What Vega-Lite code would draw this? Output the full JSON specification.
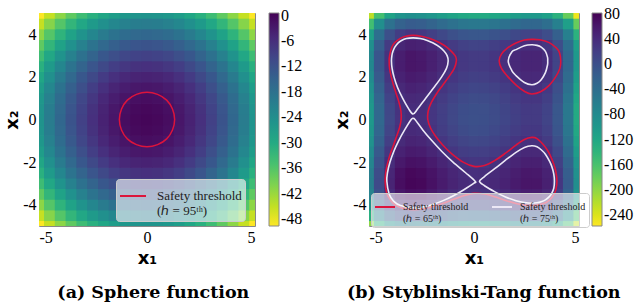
{
"$schema":"https://vega.github.io/schema/vega-lite/v6.json",
"background":"white",
"padding":{"left":3,"top":12,"right":0,"bottom":2},
"spacing":29,
"datasets":{
"g":[
{"x":-5,"y":-5,"s":-50,"t":-200},{"x":-4.5,"y":-5,"s":-45.25,"t":-131.8},{"x":-4,"y":-5,"s":-41,"t":-90},{"x":-3.5,"y":-5,"s":-37.25,"t":-68.3},{"x":-3,"y":-5,"s":-34,"t":-61},{"x":-2.5,"y":-5,"s":-31.25,"t":-63.3},{"x":-2,"y":-5,"s":-29,"t":-71},{"x":-1.5,"y":-5,"s":-27.25,"t":-80.8},{"x":-1,"y":-5,"s":-26,"t":-90},{"x":-0.5,"y":-5,"s":-25.25,"t":-96.8},{"x":0,"y":-5,"s":-25,"t":-100},{"x":0.5,"y":-5,"s":-25.25,"t":-99.3},{"x":1,"y":-5,"s":-26,"t":-95},{"x":1.5,"y":-5,"s":-27.25,"t":-88.3},{"x":2,"y":-5,"s":-29,"t":-81},{"x":2.5,"y":-5,"s":-31.25,"t":-75.8},{"x":3,"y":-5,"s":-34,"t":-76},{"x":3.5,"y":-5,"s":-37.25,"t":-85.8},{"x":4,"y":-5,"s":-41,"t":-110},{"x":4.5,"y":-5,"s":-45.25,"t":-154.3},{"x":5,"y":-5,"s":-50,"t":-225},
{"x":-5,"y":-4.5,"s":-45.25,"t":-131.8},{"x":-4.5,"y":-4.5,"s":-40.5,"t":-63.6},{"x":-4,"y":-4.5,"s":-36.25,"t":-21.8},{"x":-3.5,"y":-4.5,"s":-32.5,"t":-0.1},{"x":-3,"y":-4.5,"s":-29.25,"t":7.2},{"x":-2.5,"y":-4.5,"s":-26.5,"t":4.9},{"x":-2,"y":-4.5,"s":-24.25,"t":-2.8},{"x":-1.5,"y":-4.5,"s":-22.5,"t":-12.6},{"x":-1,"y":-4.5,"s":-21.25,"t":-21.8},{"x":-0.5,"y":-4.5,"s":-20.5,"t":-28.6},{"x":0,"y":-4.5,"s":-20.25,"t":-31.8},{"x":0.5,"y":-4.5,"s":-20.5,"t":-31.1},{"x":1,"y":-4.5,"s":-21.25,"t":-26.8},{"x":1.5,"y":-4.5,"s":-22.5,"t":-20.1},{"x":2,"y":-4.5,"s":-24.25,"t":-12.8},{"x":2.5,"y":-4.5,"s":-26.5,"t":-7.6},{"x":3,"y":-4.5,"s":-29.25,"t":-7.8},{"x":3.5,"y":-4.5,"s":-32.5,"t":-17.6},{"x":4,"y":-4.5,"s":-36.25,"t":-41.8},{"x":4.5,"y":-4.5,"s":-40.5,"t":-86.1},{"x":5,"y":-4.5,"s":-45.25,"t":-156.8},
{"x":-5,"y":-4,"s":-41,"t":-90},{"x":-4.5,"y":-4,"s":-36.25,"t":-21.8},{"x":-4,"y":-4,"s":-32,"t":20},{"x":-3.5,"y":-4,"s":-28.25,"t":41.7},{"x":-3,"y":-4,"s":-25,"t":49},{"x":-2.5,"y":-4,"s":-22.25,"t":46.7},{"x":-2,"y":-4,"s":-20,"t":39},{"x":-1.5,"y":-4,"s":-18.25,"t":29.2},{"x":-1,"y":-4,"s":-17,"t":20},{"x":-0.5,"y":-4,"s":-16.25,"t":13.2},{"x":0,"y":-4,"s":-16,"t":10},{"x":0.5,"y":-4,"s":-16.25,"t":10.7},{"x":1,"y":-4,"s":-17,"t":15},{"x":1.5,"y":-4,"s":-18.25,"t":21.7},{"x":2,"y":-4,"s":-20,"t":29},{"x":2.5,"y":-4,"s":-22.25,"t":34.2},{"x":3,"y":-4,"s":-25,"t":34},{"x":3.5,"y":-4,"s":-28.25,"t":24.2},{"x":4,"y":-4,"s":-32,"t":0},{"x":4.5,"y":-4,"s":-36.25,"t":-44.3},{"x":5,"y":-4,"s":-41,"t":-115},
{"x":-5,"y":-3.5,"s":-37.25,"t":-68.3},{"x":-4.5,"y":-3.5,"s":-32.5,"t":-0.1},{"x":-4,"y":-3.5,"s":-28.25,"t":41.7},{"x":-3.5,"y":-3.5,"s":-24.5,"t":63.4},{"x":-3,"y":-3.5,"s":-21.25,"t":70.7},{"x":-2.5,"y":-3.5,"s":-18.5,"t":68.4},{"x":-2,"y":-3.5,"s":-16.25,"t":60.7},{"x":-1.5,"y":-3.5,"s":-14.5,"t":50.9},{"x":-1,"y":-3.5,"s":-13.25,"t":41.7},{"x":-0.5,"y":-3.5,"s":-12.5,"t":34.9},{"x":0,"y":-3.5,"s":-12.25,"t":31.7},{"x":0.5,"y":-3.5,"s":-12.5,"t":32.4},{"x":1,"y":-3.5,"s":-13.25,"t":36.7},{"x":1.5,"y":-3.5,"s":-14.5,"t":43.4},{"x":2,"y":-3.5,"s":-16.25,"t":50.7},{"x":2.5,"y":-3.5,"s":-18.5,"t":55.9},{"x":3,"y":-3.5,"s":-21.25,"t":55.7},{"x":3.5,"y":-3.5,"s":-24.5,"t":45.9},{"x":4,"y":-3.5,"s":-28.25,"t":21.7},{"x":4.5,"y":-3.5,"s":-32.5,"t":-22.6},{"x":5,"y":-3.5,"s":-37.25,"t":-93.3},
{"x":-5,"y":-3,"s":-34,"t":-61},{"x":-4.5,"y":-3,"s":-29.25,"t":7.2},{"x":-4,"y":-3,"s":-25,"t":49},{"x":-3.5,"y":-3,"s":-21.25,"t":70.7},{"x":-3,"y":-3,"s":-18,"t":78},{"x":-2.5,"y":-3,"s":-15.25,"t":75.7},{"x":-2,"y":-3,"s":-13,"t":68},{"x":-1.5,"y":-3,"s":-11.25,"t":58.2},{"x":-1,"y":-3,"s":-10,"t":49},{"x":-0.5,"y":-3,"s":-9.25,"t":42.2},{"x":0,"y":-3,"s":-9,"t":39},{"x":0.5,"y":-3,"s":-9.25,"t":39.7},{"x":1,"y":-3,"s":-10,"t":44},{"x":1.5,"y":-3,"s":-11.25,"t":50.7},{"x":2,"y":-3,"s":-13,"t":58},{"x":2.5,"y":-3,"s":-15.25,"t":63.2},{"x":3,"y":-3,"s":-18,"t":63},{"x":3.5,"y":-3,"s":-21.25,"t":53.2},{"x":4,"y":-3,"s":-25,"t":29},{"x":4.5,"y":-3,"s":-29.25,"t":-15.3},{"x":5,"y":-3,"s":-34,"t":-86},
{"x":-5,"y":-2.5,"s":-31.25,"t":-63.3},{"x":-4.5,"y":-2.5,"s":-26.5,"t":4.9},{"x":-4,"y":-2.5,"s":-22.25,"t":46.7},{"x":-3.5,"y":-2.5,"s":-18.5,"t":68.4},{"x":-3,"y":-2.5,"s":-15.25,"t":75.7},{"x":-2.5,"y":-2.5,"s":-12.5,"t":73.4},{"x":-2,"y":-2.5,"s":-10.25,"t":65.7},{"x":-1.5,"y":-2.5,"s":-8.5,"t":55.9},{"x":-1,"y":-2.5,"s":-7.25,"t":46.7},{"x":-0.5,"y":-2.5,"s":-6.5,"t":39.9},{"x":0,"y":-2.5,"s":-6.25,"t":36.7},{"x":0.5,"y":-2.5,"s":-6.5,"t":37.4},{"x":1,"y":-2.5,"s":-7.25,"t":41.7},{"x":1.5,"y":-2.5,"s":-8.5,"t":48.4},{"x":2,"y":-2.5,"s":-10.25,"t":55.7},{"x":2.5,"y":-2.5,"s":-12.5,"t":60.9},{"x":3,"y":-2.5,"s":-15.25,"t":60.7},{"x":3.5,"y":-2.5,"s":-18.5,"t":50.9},{"x":4,"y":-2.5,"s":-22.25,"t":26.7},{"x":4.5,"y":-2.5,"s":-26.5,"t":-17.6},{"x":5,"y":-2.5,"s":-31.25,"t":-88.3},
{"x":-5,"y":-2,"s":-29,"t":-71},{"x":-4.5,"y":-2,"s":-24.25,"t":-2.8},{"x":-4,"y":-2,"s":-20,"t":39},{"x":-3.5,"y":-2,"s":-16.25,"t":60.7},{"x":-3,"y":-2,"s":-13,"t":68},{"x":-2.5,"y":-2,"s":-10.25,"t":65.7},{"x":-2,"y":-2,"s":-8,"t":58},{"x":-1.5,"y":-2,"s":-6.25,"t":48.2},{"x":-1,"y":-2,"s":-5,"t":39},{"x":-0.5,"y":-2,"s":-4.25,"t":32.2},{"x":0,"y":-2,"s":-4,"t":29},{"x":0.5,"y":-2,"s":-4.25,"t":29.7},{"x":1,"y":-2,"s":-5,"t":34},{"x":1.5,"y":-2,"s":-6.25,"t":40.7},{"x":2,"y":-2,"s":-8,"t":48},{"x":2.5,"y":-2,"s":-10.25,"t":53.2},{"x":3,"y":-2,"s":-13,"t":53},{"x":3.5,"y":-2,"s":-16.25,"t":43.2},{"x":4,"y":-2,"s":-20,"t":19},{"x":4.5,"y":-2,"s":-24.25,"t":-25.3},{"x":5,"y":-2,"s":-29,"t":-96},
{"x":-5,"y":-1.5,"s":-27.25,"t":-80.8},{"x":-4.5,"y":-1.5,"s":-22.5,"t":-12.6},{"x":-4,"y":-1.5,"s":-18.25,"t":29.2},{"x":-3.5,"y":-1.5,"s":-14.5,"t":50.9},{"x":-3,"y":-1.5,"s":-11.25,"t":58.2},{"x":-2.5,"y":-1.5,"s":-8.5,"t":55.9},{"x":-2,"y":-1.5,"s":-6.25,"t":48.2},{"x":-1.5,"y":-1.5,"s":-4.5,"t":38.4},{"x":-1,"y":-1.5,"s":-3.25,"t":29.2},{"x":-0.5,"y":-1.5,"s":-2.5,"t":22.4},{"x":0,"y":-1.5,"s":-2.25,"t":19.2},{"x":0.5,"y":-1.5,"s":-2.5,"t":19.9},{"x":1,"y":-1.5,"s":-3.25,"t":24.2},{"x":1.5,"y":-1.5,"s":-4.5,"t":30.9},{"x":2,"y":-1.5,"s":-6.25,"t":38.2},{"x":2.5,"y":-1.5,"s":-8.5,"t":43.4},{"x":3,"y":-1.5,"s":-11.25,"t":43.2},{"x":3.5,"y":-1.5,"s":-14.5,"t":33.4},{"x":4,"y":-1.5,"s":-18.25,"t":9.2},{"x":4.5,"y":-1.5,"s":-22.5,"t":-35.1},{"x":5,"y":-1.5,"s":-27.25,"t":-105.8},
{"x":-5,"y":-1,"s":-26,"t":-90},{"x":-4.5,"y":-1,"s":-21.25,"t":-21.8},{"x":-4,"y":-1,"s":-17,"t":20},{"x":-3.5,"y":-1,"s":-13.25,"t":41.7},{"x":-3,"y":-1,"s":-10,"t":49},{"x":-2.5,"y":-1,"s":-7.25,"t":46.7},{"x":-2,"y":-1,"s":-5,"t":39},{"x":-1.5,"y":-1,"s":-3.25,"t":29.2},{"x":-1,"y":-1,"s":-2,"t":20},{"x":-0.5,"y":-1,"s":-1.25,"t":13.2},{"x":0,"y":-1,"s":-1,"t":10},{"x":0.5,"y":-1,"s":-1.25,"t":10.7},{"x":1,"y":-1,"s":-2,"t":15},{"x":1.5,"y":-1,"s":-3.25,"t":21.7},{"x":2,"y":-1,"s":-5,"t":29},{"x":2.5,"y":-1,"s":-7.25,"t":34.2},{"x":3,"y":-1,"s":-10,"t":34},{"x":3.5,"y":-1,"s":-13.25,"t":24.2},{"x":4,"y":-1,"s":-17,"t":0},{"x":4.5,"y":-1,"s":-21.25,"t":-44.3},{"x":5,"y":-1,"s":-26,"t":-115},
{"x":-5,"y":-0.5,"s":-25.25,"t":-96.8},{"x":-4.5,"y":-0.5,"s":-20.5,"t":-28.6},{"x":-4,"y":-0.5,"s":-16.25,"t":13.2},{"x":-3.5,"y":-0.5,"s":-12.5,"t":34.9},{"x":-3,"y":-0.5,"s":-9.25,"t":42.2},{"x":-2.5,"y":-0.5,"s":-6.5,"t":39.9},{"x":-2,"y":-0.5,"s":-4.25,"t":32.2},{"x":-1.5,"y":-0.5,"s":-2.5,"t":22.4},{"x":-1,"y":-0.5,"s":-1.25,"t":13.2},{"x":-0.5,"y":-0.5,"s":-0.5,"t":6.4},{"x":0,"y":-0.5,"s":-0.25,"t":3.2},{"x":0.5,"y":-0.5,"s":-0.5,"t":3.9},{"x":1,"y":-0.5,"s":-1.25,"t":8.2},{"x":1.5,"y":-0.5,"s":-2.5,"t":14.9},{"x":2,"y":-0.5,"s":-4.25,"t":22.2},{"x":2.5,"y":-0.5,"s":-6.5,"t":27.4},{"x":3,"y":-0.5,"s":-9.25,"t":27.2},{"x":3.5,"y":-0.5,"s":-12.5,"t":17.4},{"x":4,"y":-0.5,"s":-16.25,"t":-6.8},{"x":4.5,"y":-0.5,"s":-20.5,"t":-51.1},{"x":5,"y":-0.5,"s":-25.25,"t":-121.8},
{"x":-5,"y":0,"s":-25,"t":-100},{"x":-4.5,"y":0,"s":-20.25,"t":-31.8},{"x":-4,"y":0,"s":-16,"t":10},{"x":-3.5,"y":0,"s":-12.25,"t":31.7},{"x":-3,"y":0,"s":-9,"t":39},{"x":-2.5,"y":0,"s":-6.25,"t":36.7},{"x":-2,"y":0,"s":-4,"t":29},{"x":-1.5,"y":0,"s":-2.25,"t":19.2},{"x":-1,"y":0,"s":-1,"t":10},{"x":-0.5,"y":0,"s":-0.25,"t":3.2},{"x":0,"y":0,"s":0,"t":0},{"x":0.5,"y":0,"s":-0.25,"t":0.7},{"x":1,"y":0,"s":-1,"t":5},{"x":1.5,"y":0,"s":-2.25,"t":11.7},{"x":2,"y":0,"s":-4,"t":19},{"x":2.5,"y":0,"s":-6.25,"t":24.2},{"x":3,"y":0,"s":-9,"t":24},{"x":3.5,"y":0,"s":-12.25,"t":14.2},{"x":4,"y":0,"s":-16,"t":-10},{"x":4.5,"y":0,"s":-20.25,"t":-54.3},{"x":5,"y":0,"s":-25,"t":-125},
{"x":-5,"y":0.5,"s":-25.25,"t":-99.3},{"x":-4.5,"y":0.5,"s":-20.5,"t":-31.1},{"x":-4,"y":0.5,"s":-16.25,"t":10.7},{"x":-3.5,"y":0.5,"s":-12.5,"t":32.4},{"x":-3,"y":0.5,"s":-9.25,"t":39.7},{"x":-2.5,"y":0.5,"s":-6.5,"t":37.4},{"x":-2,"y":0.5,"s":-4.25,"t":29.7},{"x":-1.5,"y":0.5,"s":-2.5,"t":19.9},{"x":-1,"y":0.5,"s":-1.25,"t":10.7},{"x":-0.5,"y":0.5,"s":-0.5,"t":3.9},{"x":0,"y":0.5,"s":-0.25,"t":0.7},{"x":0.5,"y":0.5,"s":-0.5,"t":1.4},{"x":1,"y":0.5,"s":-1.25,"t":5.7},{"x":1.5,"y":0.5,"s":-2.5,"t":12.4},{"x":2,"y":0.5,"s":-4.25,"t":19.7},{"x":2.5,"y":0.5,"s":-6.5,"t":24.9},{"x":3,"y":0.5,"s":-9.25,"t":24.7},{"x":3.5,"y":0.5,"s":-12.5,"t":14.9},{"x":4,"y":0.5,"s":-16.25,"t":-9.3},{"x":4.5,"y":0.5,"s":-20.5,"t":-53.6},{"x":5,"y":0.5,"s":-25.25,"t":-124.3},
{"x":-5,"y":1,"s":-26,"t":-95},{"x":-4.5,"y":1,"s":-21.25,"t":-26.8},{"x":-4,"y":1,"s":-17,"t":15},{"x":-3.5,"y":1,"s":-13.25,"t":36.7},{"x":-3,"y":1,"s":-10,"t":44},{"x":-2.5,"y":1,"s":-7.25,"t":41.7},{"x":-2,"y":1,"s":-5,"t":34},{"x":-1.5,"y":1,"s":-3.25,"t":24.2},{"x":-1,"y":1,"s":-2,"t":15},{"x":-0.5,"y":1,"s":-1.25,"t":8.2},{"x":0,"y":1,"s":-1,"t":5},{"x":0.5,"y":1,"s":-1.25,"t":5.7},{"x":1,"y":1,"s":-2,"t":10},{"x":1.5,"y":1,"s":-3.25,"t":16.7},{"x":2,"y":1,"s":-5,"t":24},{"x":2.5,"y":1,"s":-7.25,"t":29.2},{"x":3,"y":1,"s":-10,"t":29},{"x":3.5,"y":1,"s":-13.25,"t":19.2},{"x":4,"y":1,"s":-17,"t":-5},{"x":4.5,"y":1,"s":-21.25,"t":-49.3},{"x":5,"y":1,"s":-26,"t":-120},
{"x":-5,"y":1.5,"s":-27.25,"t":-88.3},{"x":-4.5,"y":1.5,"s":-22.5,"t":-20.1},{"x":-4,"y":1.5,"s":-18.25,"t":21.7},{"x":-3.5,"y":1.5,"s":-14.5,"t":43.4},{"x":-3,"y":1.5,"s":-11.25,"t":50.7},{"x":-2.5,"y":1.5,"s":-8.5,"t":48.4},{"x":-2,"y":1.5,"s":-6.25,"t":40.7},{"x":-1.5,"y":1.5,"s":-4.5,"t":30.9},{"x":-1,"y":1.5,"s":-3.25,"t":21.7},{"x":-0.5,"y":1.5,"s":-2.5,"t":14.9},{"x":0,"y":1.5,"s":-2.25,"t":11.7},{"x":0.5,"y":1.5,"s":-2.5,"t":12.4},{"x":1,"y":1.5,"s":-3.25,"t":16.7},{"x":1.5,"y":1.5,"s":-4.5,"t":23.4},{"x":2,"y":1.5,"s":-6.25,"t":30.7},{"x":2.5,"y":1.5,"s":-8.5,"t":35.9},{"x":3,"y":1.5,"s":-11.25,"t":35.7},{"x":3.5,"y":1.5,"s":-14.5,"t":25.9},{"x":4,"y":1.5,"s":-18.25,"t":1.7},{"x":4.5,"y":1.5,"s":-22.5,"t":-42.6},{"x":5,"y":1.5,"s":-27.25,"t":-113.3},
{"x":-5,"y":2,"s":-29,"t":-81},{"x":-4.5,"y":2,"s":-24.25,"t":-12.8},{"x":-4,"y":2,"s":-20,"t":29},{"x":-3.5,"y":2,"s":-16.25,"t":50.7},{"x":-3,"y":2,"s":-13,"t":58},{"x":-2.5,"y":2,"s":-10.25,"t":55.7},{"x":-2,"y":2,"s":-8,"t":48},{"x":-1.5,"y":2,"s":-6.25,"t":38.2},{"x":-1,"y":2,"s":-5,"t":29},{"x":-0.5,"y":2,"s":-4.25,"t":22.2},{"x":0,"y":2,"s":-4,"t":19},{"x":0.5,"y":2,"s":-4.25,"t":19.7},{"x":1,"y":2,"s":-5,"t":24},{"x":1.5,"y":2,"s":-6.25,"t":30.7},{"x":2,"y":2,"s":-8,"t":38},{"x":2.5,"y":2,"s":-10.25,"t":43.2},{"x":3,"y":2,"s":-13,"t":43},{"x":3.5,"y":2,"s":-16.25,"t":33.2},{"x":4,"y":2,"s":-20,"t":9},{"x":4.5,"y":2,"s":-24.25,"t":-35.3},{"x":5,"y":2,"s":-29,"t":-106},
{"x":-5,"y":2.5,"s":-31.25,"t":-75.8},{"x":-4.5,"y":2.5,"s":-26.5,"t":-7.6},{"x":-4,"y":2.5,"s":-22.25,"t":34.2},{"x":-3.5,"y":2.5,"s":-18.5,"t":55.9},{"x":-3,"y":2.5,"s":-15.25,"t":63.2},{"x":-2.5,"y":2.5,"s":-12.5,"t":60.9},{"x":-2,"y":2.5,"s":-10.25,"t":53.2},{"x":-1.5,"y":2.5,"s":-8.5,"t":43.4},{"x":-1,"y":2.5,"s":-7.25,"t":34.2},{"x":-0.5,"y":2.5,"s":-6.5,"t":27.4},{"x":0,"y":2.5,"s":-6.25,"t":24.2},{"x":0.5,"y":2.5,"s":-6.5,"t":24.9},{"x":1,"y":2.5,"s":-7.25,"t":29.2},{"x":1.5,"y":2.5,"s":-8.5,"t":35.9},{"x":2,"y":2.5,"s":-10.25,"t":43.2},{"x":2.5,"y":2.5,"s":-12.5,"t":48.4},{"x":3,"y":2.5,"s":-15.25,"t":48.2},{"x":3.5,"y":2.5,"s":-18.5,"t":38.4},{"x":4,"y":2.5,"s":-22.25,"t":14.2},{"x":4.5,"y":2.5,"s":-26.5,"t":-30.1},{"x":5,"y":2.5,"s":-31.25,"t":-100.8},
{"x":-5,"y":3,"s":-34,"t":-76},{"x":-4.5,"y":3,"s":-29.25,"t":-7.8},{"x":-4,"y":3,"s":-25,"t":34},{"x":-3.5,"y":3,"s":-21.25,"t":55.7},{"x":-3,"y":3,"s":-18,"t":63},{"x":-2.5,"y":3,"s":-15.25,"t":60.7},{"x":-2,"y":3,"s":-13,"t":53},{"x":-1.5,"y":3,"s":-11.25,"t":43.2},{"x":-1,"y":3,"s":-10,"t":34},{"x":-0.5,"y":3,"s":-9.25,"t":27.2},{"x":0,"y":3,"s":-9,"t":24},{"x":0.5,"y":3,"s":-9.25,"t":24.7},{"x":1,"y":3,"s":-10,"t":29},{"x":1.5,"y":3,"s":-11.25,"t":35.7},{"x":2,"y":3,"s":-13,"t":43},{"x":2.5,"y":3,"s":-15.25,"t":48.2},{"x":3,"y":3,"s":-18,"t":48},{"x":3.5,"y":3,"s":-21.25,"t":38.2},{"x":4,"y":3,"s":-25,"t":14},{"x":4.5,"y":3,"s":-29.25,"t":-30.3},{"x":5,"y":3,"s":-34,"t":-101},
{"x":-5,"y":3.5,"s":-37.25,"t":-85.8},{"x":-4.5,"y":3.5,"s":-32.5,"t":-17.6},{"x":-4,"y":3.5,"s":-28.25,"t":24.2},{"x":-3.5,"y":3.5,"s":-24.5,"t":45.9},{"x":-3,"y":3.5,"s":-21.25,"t":53.2},{"x":-2.5,"y":3.5,"s":-18.5,"t":50.9},{"x":-2,"y":3.5,"s":-16.25,"t":43.2},{"x":-1.5,"y":3.5,"s":-14.5,"t":33.4},{"x":-1,"y":3.5,"s":-13.25,"t":24.2},{"x":-0.5,"y":3.5,"s":-12.5,"t":17.4},{"x":0,"y":3.5,"s":-12.25,"t":14.2},{"x":0.5,"y":3.5,"s":-12.5,"t":14.9},{"x":1,"y":3.5,"s":-13.25,"t":19.2},{"x":1.5,"y":3.5,"s":-14.5,"t":25.9},{"x":2,"y":3.5,"s":-16.25,"t":33.2},{"x":2.5,"y":3.5,"s":-18.5,"t":38.4},{"x":3,"y":3.5,"s":-21.25,"t":38.2},{"x":3.5,"y":3.5,"s":-24.5,"t":28.4},{"x":4,"y":3.5,"s":-28.25,"t":4.2},{"x":4.5,"y":3.5,"s":-32.5,"t":-40.1},{"x":5,"y":3.5,"s":-37.25,"t":-110.8},
{"x":-5,"y":4,"s":-41,"t":-110},{"x":-4.5,"y":4,"s":-36.25,"t":-41.8},{"x":-4,"y":4,"s":-32,"t":0},{"x":-3.5,"y":4,"s":-28.25,"t":21.7},{"x":-3,"y":4,"s":-25,"t":29},{"x":-2.5,"y":4,"s":-22.25,"t":26.7},{"x":-2,"y":4,"s":-20,"t":19},{"x":-1.5,"y":4,"s":-18.25,"t":9.2},{"x":-1,"y":4,"s":-17,"t":0},{"x":-0.5,"y":4,"s":-16.25,"t":-6.8},{"x":0,"y":4,"s":-16,"t":-10},{"x":0.5,"y":4,"s":-16.25,"t":-9.3},{"x":1,"y":4,"s":-17,"t":-5},{"x":1.5,"y":4,"s":-18.25,"t":1.7},{"x":2,"y":4,"s":-20,"t":9},{"x":2.5,"y":4,"s":-22.25,"t":14.2},{"x":3,"y":4,"s":-25,"t":14},{"x":3.5,"y":4,"s":-28.25,"t":4.2},{"x":4,"y":4,"s":-32,"t":-20},{"x":4.5,"y":4,"s":-36.25,"t":-64.3},{"x":5,"y":4,"s":-41,"t":-135},
{"x":-5,"y":4.5,"s":-45.25,"t":-154.3},{"x":-4.5,"y":4.5,"s":-40.5,"t":-86.1},{"x":-4,"y":4.5,"s":-36.25,"t":-44.3},{"x":-3.5,"y":4.5,"s":-32.5,"t":-22.6},{"x":-3,"y":4.5,"s":-29.25,"t":-15.3},{"x":-2.5,"y":4.5,"s":-26.5,"t":-17.6},{"x":-2,"y":4.5,"s":-24.25,"t":-25.3},{"x":-1.5,"y":4.5,"s":-22.5,"t":-35.1},{"x":-1,"y":4.5,"s":-21.25,"t":-44.3},{"x":-0.5,"y":4.5,"s":-20.5,"t":-51.1},{"x":0,"y":4.5,"s":-20.25,"t":-54.3},{"x":0.5,"y":4.5,"s":-20.5,"t":-53.6},{"x":1,"y":4.5,"s":-21.25,"t":-49.3},{"x":1.5,"y":4.5,"s":-22.5,"t":-42.6},{"x":2,"y":4.5,"s":-24.25,"t":-35.3},{"x":2.5,"y":4.5,"s":-26.5,"t":-30.1},{"x":3,"y":4.5,"s":-29.25,"t":-30.3},{"x":3.5,"y":4.5,"s":-32.5,"t":-40.1},{"x":4,"y":4.5,"s":-36.25,"t":-64.3},{"x":4.5,"y":4.5,"s":-40.5,"t":-108.6},{"x":5,"y":4.5,"s":-45.25,"t":-179.3},
{"x":-5,"y":5,"s":-50,"t":-225},{"x":-4.5,"y":5,"s":-45.25,"t":-156.8},{"x":-4,"y":5,"s":-41,"t":-115},{"x":-3.5,"y":5,"s":-37.25,"t":-93.3},{"x":-3,"y":5,"s":-34,"t":-86},{"x":-2.5,"y":5,"s":-31.25,"t":-88.3},{"x":-2,"y":5,"s":-29,"t":-96},{"x":-1.5,"y":5,"s":-27.25,"t":-105.8},{"x":-1,"y":5,"s":-26,"t":-115},{"x":-0.5,"y":5,"s":-25.25,"t":-121.8},{"x":0,"y":5,"s":-25,"t":-125},{"x":0.5,"y":5,"s":-25.25,"t":-124.3},{"x":1,"y":5,"s":-26,"t":-120},{"x":1.5,"y":5,"s":-27.25,"t":-113.3},{"x":2,"y":5,"s":-29,"t":-106},{"x":2.5,"y":5,"s":-31.25,"t":-100.8},{"x":3,"y":5,"s":-34,"t":-101},{"x":3.5,"y":5,"s":-37.25,"t":-110.8},{"x":4,"y":5,"s":-41,"t":-135},{"x":4.5,"y":5,"s":-45.25,"t":-179.3},{"x":5,"y":5,"s":-50,"t":-250}
],
"cs":[
{"c":"a","l":"95","x":1.28,"y":0},{"c":"a","l":"95","x":1.18,"y":0.49},{"c":"a","l":"95","x":0.91,"y":0.91},{"c":"a","l":"95","x":0.49,"y":1.18},{"c":"a","l":"95","x":0,"y":1.28},{"c":"a","l":"95","x":-0.49,"y":1.18},{"c":"a","l":"95","x":-0.91,"y":0.91},{"c":"a","l":"95","x":-1.18,"y":0.49},{"c":"a","l":"95","x":-1.28,"y":0},{"c":"a","l":"95","x":-1.18,"y":-0.49},{"c":"a","l":"95","x":-0.91,"y":-0.91},{"c":"a","l":"95","x":-0.49,"y":-1.18},{"c":"a","l":"95","x":0,"y":-1.28},{"c":"a","l":"95","x":0.49,"y":-1.18},{"c":"a","l":"95","x":0.91,"y":-0.91},{"c":"a","l":"95","x":1.18,"y":-0.49}
],
"ct":[
{"c":"R1","l":"65","x":-2.9,"y":3.95},{"c":"R1","l":"65","x":-2.46,"y":3.9},{"c":"R1","l":"65","x":-2.1,"y":3.8},{"c":"R1","l":"65","x":-1.63,"y":3.6},{"c":"R1","l":"65","x":-1.3,"y":3.4},{"c":"R1","l":"65","x":-0.9,"y":3.0},{"c":"R1","l":"65","x":-0.84,"y":2.75},{"c":"R1","l":"65","x":-0.94,"y":2.4},{"c":"R1","l":"65","x":-1.2,"y":2.0},{"c":"R1","l":"65","x":-1.5,"y":1.6},{"c":"R1","l":"65","x":-1.79,"y":1.2},{"c":"R1","l":"65","x":-2.03,"y":0.8},{"c":"R1","l":"65","x":-2.18,"y":0.4},{"c":"R1","l":"65","x":-2.2,"y":0.0},{"c":"R1","l":"65","x":-2.07,"y":-0.4},{"c":"R1","l":"65","x":-1.82,"y":-0.8},{"c":"R1","l":"65","x":-1.49,"y":-1.2},{"c":"R1","l":"65","x":-1.07,"y":-1.6},{"c":"R1","l":"65","x":-0.52,"y":-2.0},{"c":"R1","l":"65","x":0,"y":-2.2},{"c":"R1","l":"65","x":0.5,"y":-2.16},{"c":"R1","l":"65","x":1.0,"y":-1.92},{"c":"R1","l":"65","x":1.5,"y":-1.58},{"c":"R1","l":"65","x":2.0,"y":-1.2},{"c":"R1","l":"65","x":2.4,"y":-0.94},{"c":"R1","l":"65","x":2.75,"y":-0.84},{"c":"R1","l":"65","x":3.0,"y":-0.9},{"c":"R1","l":"65","x":3.4,"y":-1.3},{"c":"R1","l":"65","x":3.6,"y":-1.63},{"c":"R1","l":"65","x":3.8,"y":-2.1},{"c":"R1","l":"65","x":3.9,"y":-2.46},{"c":"R1","l":"65","x":3.95,"y":-2.9},{"c":"R1","l":"65","x":3.9,"y":-3.29},{"c":"R1","l":"65","x":3.8,"y":-3.53},{"c":"R1","l":"65","x":3.6,"y":-3.78},{"c":"R1","l":"65","x":3.4,"y":-3.91},{"c":"R1","l":"65","x":3.0,"y":-4.02},{"c":"R1","l":"65","x":2.75,"y":-4.04},{"c":"R1","l":"65","x":2.4,"y":-4.02},{"c":"R1","l":"65","x":2.0,"y":-3.94},{"c":"R1","l":"65","x":1.5,"y":-3.8},{"c":"R1","l":"65","x":1.0,"y":-3.63},{"c":"R1","l":"65","x":0.5,"y":-3.5},{"c":"R1","l":"65","x":0.0,"y":-3.47},{"c":"R1","l":"65","x":-0.5,"y":-3.58},{"c":"R1","l":"65","x":-1.0,"y":-3.76},{"c":"R1","l":"65","x":-1.5,"y":-3.94},{"c":"R1","l":"65","x":-2.0,"y":-4.1},{"c":"R1","l":"65","x":-2.4,"y":-4.19},{"c":"R1","l":"65","x":-2.9,"y":-4.23},{"c":"R1","l":"65","x":-3.4,"y":-4.17},{"c":"R1","l":"65","x":-3.8,"y":-3.97},{"c":"R1","l":"65","x":-3.97,"y":-3.8},{"c":"R1","l":"65","x":-4.17,"y":-3.4},{"c":"R1","l":"65","x":-4.23,"y":-2.9},{"c":"R1","l":"65","x":-4.19,"y":-2.4},{"c":"R1","l":"65","x":-4.1,"y":-2.0},{"c":"R1","l":"65","x":-3.98,"y":-1.6},{"c":"R1","l":"65","x":-3.83,"y":-1.2},{"c":"R1","l":"65","x":-3.69,"y":-0.8},{"c":"R1","l":"65","x":-3.55,"y":-0.4},{"c":"R1","l":"65","x":-3.47,"y":0.0},{"c":"R1","l":"65","x":-3.48,"y":0.4},{"c":"R1","l":"65","x":-3.57,"y":0.8},{"c":"R1","l":"65","x":-3.7,"y":1.2},{"c":"R1","l":"65","x":-3.83,"y":1.6},{"c":"R1","l":"65","x":-3.94,"y":2.0},{"c":"R1","l":"65","x":-4.02,"y":2.4},{"c":"R1","l":"65","x":-4.04,"y":2.75},{"c":"R1","l":"65","x":-4.02,"y":3.0},{"c":"R1","l":"65","x":-3.91,"y":3.4},{"c":"R1","l":"65","x":-3.78,"y":3.6},{"c":"R1","l":"65","x":-3.53,"y":3.8},{"c":"R1","l":"65","x":-3.29,"y":3.9},
{"c":"R2","l":"65","x":1.2,"y":2.75},{"c":"R2","l":"65","x":1.3,"y":3.06},{"c":"R2","l":"65","x":1.6,"y":3.36},{"c":"R2","l":"65","x":2.0,"y":3.59},{"c":"R2","l":"65","x":2.4,"y":3.73},{"c":"R2","l":"65","x":2.75,"y":3.76},{"c":"R2","l":"65","x":3.13,"y":3.74},{"c":"R2","l":"65","x":3.58,"y":3.61},{"c":"R2","l":"65","x":3.92,"y":3.36},{"c":"R2","l":"65","x":4.07,"y":3.14},{"c":"R2","l":"65","x":4.13,"y":2.75},{"c":"R2","l":"65","x":4.09,"y":2.4},{"c":"R2","l":"65","x":3.89,"y":2.0},{"c":"R2","l":"65","x":3.58,"y":1.6},{"c":"R2","l":"65","x":3.17,"y":1.3},{"c":"R2","l":"65","x":2.75,"y":1.2},{"c":"R2","l":"65","x":2.43,"y":1.3},{"c":"R2","l":"65","x":2.02,"y":1.6},{"c":"R2","l":"65","x":1.62,"y":2.0},{"c":"R2","l":"65","x":1.31,"y":2.4},
{"c":"W1","l":"75","x":-2.9,"y":0.26},{"c":"W1","l":"75","x":-3.11,"y":0.5},{"c":"W1","l":"75","x":-3.4,"y":1.0},{"c":"W1","l":"75","x":-3.64,"y":1.5},{"c":"W1","l":"75","x":-3.81,"y":2.0},{"c":"W1","l":"75","x":-3.9,"y":2.4},{"c":"W1","l":"75","x":-3.93,"y":2.75},{"c":"W1","l":"75","x":-3.91,"y":3.0},{"c":"W1","l":"75","x":-3.86,"y":3.2},{"c":"W1","l":"75","x":-3.77,"y":3.4},{"c":"W1","l":"75","x":-3.61,"y":3.6},{"c":"W1","l":"75","x":-3.47,"y":3.7},{"c":"W1","l":"75","x":-3.22,"y":3.8},{"c":"W1","l":"75","x":-2.9,"y":3.83},{"c":"W1","l":"75","x":-2.56,"y":3.8},{"c":"W1","l":"75","x":-2.2,"y":3.7},{"c":"W1","l":"75","x":-1.97,"y":3.6},{"c":"W1","l":"75","x":-1.63,"y":3.4},{"c":"W1","l":"75","x":-1.42,"y":3.2},{"c":"W1","l":"75","x":-1.28,"y":3.0},{"c":"W1","l":"75","x":-1.23,"y":2.75},{"c":"W1","l":"75","x":-1.31,"y":2.4},{"c":"W1","l":"75","x":-1.54,"y":2.0},{"c":"W1","l":"75","x":-1.91,"y":1.5},{"c":"W1","l":"75","x":-2.3,"y":1.0},{"c":"W1","l":"75","x":-2.68,"y":0.5},
{"c":"W2","l":"75","x":1.63,"y":2.75},{"c":"W2","l":"75","x":1.8,"y":3.17},{"c":"W2","l":"75","x":2.0,"y":3.28},{"c":"W2","l":"75","x":2.4,"y":3.46},{"c":"W2","l":"75","x":2.75,"y":3.51},{"c":"W2","l":"75","x":3.0,"y":3.48},{"c":"W2","l":"75","x":3.2,"y":3.4},{"c":"W2","l":"75","x":3.4,"y":3.2},{"c":"W2","l":"75","x":3.5,"y":2.93},{"c":"W2","l":"75","x":3.51,"y":2.75},{"c":"W2","l":"75","x":3.5,"y":2.56},{"c":"W2","l":"75","x":3.4,"y":2.2},{"c":"W2","l":"75","x":3.2,"y":1.87},{"c":"W2","l":"75","x":3.0,"y":1.7},{"c":"W2","l":"75","x":2.75,"y":1.63},{"c":"W2","l":"75","x":2.4,"y":1.74},{"c":"W2","l":"75","x":2.0,"y":2.06},{"c":"W2","l":"75","x":1.8,"y":2.3},
{"c":"W3","l":"75","x":-2.9,"y":0.05},{"c":"W3","l":"75","x":-2.81,"y":0},{"c":"W3","l":"75","x":-2.43,"y":-0.5},{"c":"W3","l":"75","x":-2.0,"y":-1.0},{"c":"W3","l":"75","x":-1.53,"y":-1.5},{"c":"W3","l":"75","x":-1.0,"y":-2.0},{"c":"W3","l":"75","x":-0.4,"y":-2.5},{"c":"W3","l":"75","x":0.05,"y":-2.9},{"c":"W3","l":"75","x":0,"y":-2.99},{"c":"W3","l":"75","x":-0.5,"y":-3.31},{"c":"W3","l":"75","x":-1.0,"y":-3.59},{"c":"W3","l":"75","x":-1.5,"y":-3.82},{"c":"W3","l":"75","x":-2.0,"y":-4.0},{"c":"W3","l":"75","x":-2.5,"y":-4.12},{"c":"W3","l":"75","x":-2.9,"y":-4.15},{"c":"W3","l":"75","x":-3.5,"y":-4.04},{"c":"W3","l":"75","x":-3.83,"y":-3.83},{"c":"W3","l":"75","x":-4.04,"y":-3.5},{"c":"W3","l":"75","x":-4.15,"y":-2.9},{"c":"W3","l":"75","x":-4.12,"y":-2.5},{"c":"W3","l":"75","x":-4.0,"y":-2.0},{"c":"W3","l":"75","x":-3.82,"y":-1.5},{"c":"W3","l":"75","x":-3.59,"y":-1.0},{"c":"W3","l":"75","x":-3.31,"y":-0.5},{"c":"W3","l":"75","x":-2.99,"y":0},
{"c":"W4","l":"75","x":0.26,"y":-2.9},{"c":"W4","l":"75","x":0.5,"y":-3.11},{"c":"W4","l":"75","x":1.0,"y":-3.4},{"c":"W4","l":"75","x":1.5,"y":-3.64},{"c":"W4","l":"75","x":2.0,"y":-3.81},{"c":"W4","l":"75","x":2.4,"y":-3.9},{"c":"W4","l":"75","x":2.75,"y":-3.93},{"c":"W4","l":"75","x":3.0,"y":-3.91},{"c":"W4","l":"75","x":3.2,"y":-3.86},{"c":"W4","l":"75","x":3.4,"y":-3.77},{"c":"W4","l":"75","x":3.6,"y":-3.61},{"c":"W4","l":"75","x":3.7,"y":-3.47},{"c":"W4","l":"75","x":3.8,"y":-3.22},{"c":"W4","l":"75","x":3.83,"y":-2.9},{"c":"W4","l":"75","x":3.8,"y":-2.56},{"c":"W4","l":"75","x":3.7,"y":-2.2},{"c":"W4","l":"75","x":3.6,"y":-1.97},{"c":"W4","l":"75","x":3.4,"y":-1.63},{"c":"W4","l":"75","x":3.2,"y":-1.42},{"c":"W4","l":"75","x":3.0,"y":-1.28},{"c":"W4","l":"75","x":2.75,"y":-1.23},{"c":"W4","l":"75","x":2.4,"y":-1.31},{"c":"W4","l":"75","x":2.0,"y":-1.54},{"c":"W4","l":"75","x":1.5,"y":-1.91},{"c":"W4","l":"75","x":1.0,"y":-2.3},{"c":"W4","l":"75","x":0.5,"y":-2.68}
]
},
"hconcat":[
{
"width":216,"height":213,
"title":{"text":"(a) Sphere function","orient":"bottom","frame":"bounds","anchor":"middle","font":"DejaVu Serif","fontWeight":"bold","fontSize":17.5,"offset":17,"color":"black"},
"encoding":{
"x":{"field":"x","type":"quantitative","title":"x₁","scale":{"domain":[-5,5],"nice":false,"zero":false},"axis":{"values":[-5,0,5],"labelExpr":"''+datum.value","titlePadding":4}},
"y":{"field":"y","type":"quantitative","title":"x₂","scale":{"domain":[-5,5],"nice":false,"zero":false},"axis":{"values":[-4,-2,0,2,4],"labelExpr":"''+datum.value"}}
},
"layer":[
{"data":{"name":"g"},"mark":{"type":"rect","width":11.6,"height":11.4,"clip":true},
"encoding":{"color":{"field":"s","type":"quantitative","scale":{"scheme":"viridis","reverse":true,"domain":[-49.6,0.6],"clamp":true},
"legend":{"title":null,"orient":"right","values":[0,-6,-12,-18,-24,-30,-36,-42,-48],"gradientLength":213,"gradientThickness":10,"gradientStrokeColor":"#888","gradientStrokeWidth":1,"labelFont":"Liberation Serif","labelFontSize":16,"labelColor":"black","labelOffset":2,"labelOverlap":false,"labelExpr":"''+datum.value","offset":14,"padding":0}}}},
{"data":{"name":"cs"},"mark":{"type":"line","interpolate":"cardinal-closed","strokeWidth":1.5},
"encoding":{"stroke":{"field":"l","type":"nominal","scale":{"domain":["95"],"range":["#dc143c"]},
"legend":{"title":null,"orient":"none","legendX":77,"legendY":166,"symbolType":"stroke","symbolStrokeWidth":2,"symbolSize":676,"labelFont":"Liberation Serif","labelFontSize":13,"labelColor":"#222","labelOffset":10,"labelLimit":0,"padding":3,"fillColor":"rgba(255,255,255,0.6)","strokeColor":"#cccccc","cornerRadius":3,"labelExpr":"['Safety threshold','(ℎ = 95ᵗʰ)']"}},
"detail":{"field":"c"},"order":{"value":null}}}
]
},
{
"width":210,"height":213,
"title":{"text":"(b) Styblinski-Tang function","orient":"bottom","frame":"bounds","anchor":"middle","font":"DejaVu Serif","fontWeight":"bold","fontSize":17.5,"offset":17,"color":"black"},
"encoding":{
"x":{"field":"x","type":"quantitative","title":"x₁","scale":{"domain":[-5,5],"nice":false,"zero":false},"axis":{"values":[-5,0,5],"labelExpr":"''+datum.value","titlePadding":4}},
"y":{"field":"y","type":"quantitative","title":"x₂","scale":{"domain":[-5,5],"nice":false,"zero":false},"axis":{"values":[-4,-2,0,2,4],"labelExpr":"''+datum.value"}}
},
"layer":[
{"data":{"name":"g"},"mark":{"type":"rect","width":11.2,"height":11.4,"clip":true},
"encoding":{"color":{"field":"t","type":"quantitative","scale":{"scheme":"viridis","reverse":true,"domain":[-258,82],"clamp":true},
"legend":{"title":null,"orient":"right","values":[80,40,0,-40,-80,-120,-160,-200,-240],"gradientLength":213,"gradientThickness":10,"gradientStrokeColor":"#888","gradientStrokeWidth":1,"labelFont":"Liberation Serif","labelFontSize":16,"labelColor":"black","labelOffset":2,"labelOverlap":false,"labelExpr":"''+datum.value","offset":13,"padding":0}}}},
{"data":{"name":"ct"},"mark":{"type":"line","interpolate":"cardinal-closed","strokeWidth":1.6},
"encoding":{"stroke":{"field":"l","type":"nominal","scale":{"domain":["65","75"],"range":["#dc143c","#ece8f6"]},
"legend":{"title":null,"orient":"none","legendX":2,"legendY":180,"direction":"horizontal","columns":2,"columnPadding":19,"symbolType":"stroke","symbolStrokeWidth":2,"symbolSize":400,"labelFont":"Liberation Serif","labelFontSize":10,"labelColor":"#222","labelOffset":7,"labelLimit":0,"padding":3,"fillColor":"rgba(255,255,255,0.6)","strokeColor":"#cccccc","cornerRadius":3,"labelExpr":"['Safety threshold','(ℎ = '+datum.label+'ᵗʰ)']"}},
"detail":{"field":"c"},"order":{"value":null}}}
]
}
],
"resolve":{"scale":{"color":"independent","stroke":"independent"},"legend":{"color":"independent","stroke":"independent"}},
"config":{
"view":{"stroke":"#888","strokeWidth":1},
"axis":{"grid":false,"ticks":false,"domain":false,"labelFont":"Liberation Serif","labelFontSize":16,"labelColor":"black","labelPadding":3,"titleFont":"DejaVu Sans","titleFontWeight":"bold","titleFontSize":18,"titleColor":"black","titlePadding":1}
}
}
